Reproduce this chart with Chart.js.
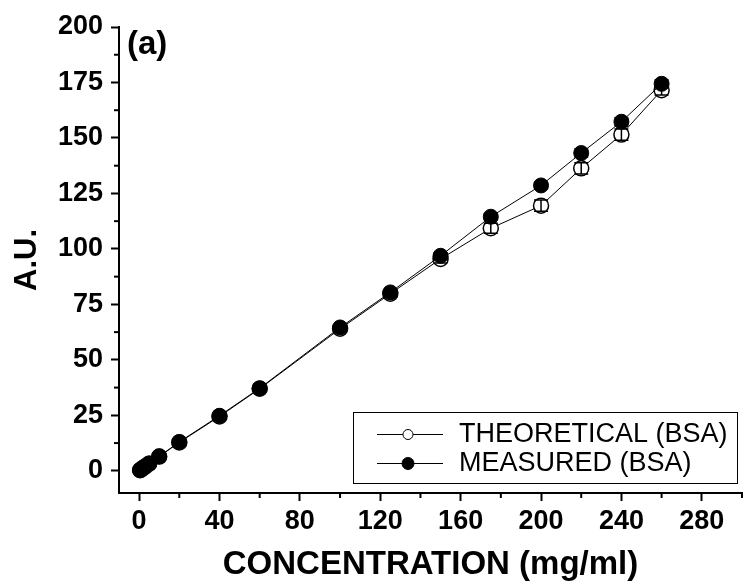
<!DOCTYPE html>
<html>
<head>
<meta charset="utf-8">
<script src="https://cdn.jsdelivr.net/npm/chart.js@4"></script>
<style>
html, body { margin: 0; padding: 0; background: #fff; }
</style>
</head>
<body>
<canvas id="myChart" width="746" height="585"></canvas>
<script>
// values
const concentration = [0.5, 1, 2, 3, 5, 10, 20, 40, 60, 100, 125, 150, 175, 200, 220, 240, 260];
const theoretical  = [0.3, 0.6, 1.3, 1.9, 3.2, 6.4, 12.8, 24.5, 37, 64, 79.8, 95.5, 109.3, 119.5, 136.3, 151.5, 171.5];
const measured     = [0.3, 0.7, 1.3, 2, 3.3, 6.5, 13, 24.8, 37.2, 64.6, 80.4, 96.9, 114.5, 128.6, 143.2, 157.3, 174.4];
const theoreticalErr = [0.3, 0.3, 0.3, 0.4, 0.4, 0.5, 0.6, 0.8, 1, 1.2, 1.5, 1.8, 2.3, 2.5, 2.5, 2.5, 2.2];
const measuredErr    = [0.3, 0.3, 0.3, 0.3, 0.4, 0.4, 0.5, 0.6, 0.8, 1, 1.2, 1.4, 1.5, 1.6, 1.8, 1.8, 1.8];
const legendLabels = ['THEORETICAL (BSA)', 'MEASURED (BSA)'];
const panelLabel = '(a)';

const FONT = "'Liberation Sans', Arial, sans-serif";

function pts(ys) {
  return concentration.map((c, i) => ({ x: c, y: ys[i] }));
}

const errors = [theoreticalErr, measuredErr];

// vertical error bars, drawn right after each dataset
const errorBars = {
  id: 'errorBars',
  afterDatasetDraw(chart, args) {
    const ds = chart.data.datasets[args.index];
    const err = errors[ds.errIndex];
    const x = chart.scales.x, y = chart.scales.y;
    const c = chart.ctx;
    c.save();
    c.strokeStyle = '#000';
    c.lineWidth = 1.5;
    ds.data.forEach((p, i) => {
      const px = x.getPixelForValue(p.x);
      const top = y.getPixelForValue(p.y + err[i]);
      const bot = y.getPixelForValue(p.y - err[i]);
      c.beginPath();
      c.moveTo(px, top); c.lineTo(px, bot);
      c.moveTo(px - 7, top); c.lineTo(px + 7, top);
      c.moveTo(px - 7, bot); c.lineTo(px + 7, bot);
      c.stroke();
    });
    c.restore();
  }
};

// minor ticks (shorter than major ones), legend box and panel label
const extras = {
  id: 'extras',
  afterDraw(chart) {
    const c = chart.ctx;
    const ca = chart.chartArea;
    const xs = chart.scales.x, ys = chart.scales.y;
    c.save();
    c.strokeStyle = '#000';
    c.lineWidth = 2;
    xs.ticks.forEach(t => {
      if (t.value % 40 !== 0) {
        const px = xs.getPixelForValue(t.value);
        c.beginPath(); c.moveTo(px, ca.bottom); c.lineTo(px, ca.bottom + 5); c.stroke();
      }
    });
    ys.ticks.forEach(t => {
      if (t.value % 25 !== 0) {
        const py = ys.getPixelForValue(t.value);
        c.beginPath(); c.moveTo(ca.left, py); c.lineTo(ca.left - 5, py); c.stroke();
      }
    });

    // panel label
    c.fillStyle = '#000';
    c.font = 'bold 33px ' + FONT;
    c.textBaseline = 'top';
    c.textAlign = 'left';
    c.fillText(panelLabel, ca.left + 8, ca.top + 1);

    // legend
    const bx = ca.left + 234, by = ca.bottom - 81;
    const bw = ca.right - 5 - bx, bh = 71;
    c.lineWidth = 1;
    c.strokeStyle = '#000';
    c.fillStyle = '#fff';
    c.fillRect(bx, by, bw, bh);
    c.strokeRect(bx + 0.5, by + 0.5, bw, bh);
    c.font = '27px ' + FONT;
    c.textBaseline = 'middle';
    legendLabels.forEach((lab, i) => {
      const ry = by + 22 + i * 29;
      c.strokeStyle = '#000';
      c.lineWidth = 1;
      c.beginPath(); c.moveTo(bx + 24, ry + 0.5); c.lineTo(bx + 90, ry + 0.5); c.stroke();
      c.beginPath();
      c.arc(bx + 55, ry + 0.5, i === 0 ? 5 : 6, 0, Math.PI * 2);
      c.fillStyle = i === 0 ? '#fff' : '#000';
      c.fill();
      c.stroke();
      c.fillStyle = '#000';
      c.fillText(lab, bx + 106, ry + 1);
    });
    c.restore();
  }
};

new Chart(document.getElementById('myChart'), {
  type: 'scatter',
  data: {
    datasets: [{
      label: legendLabels[0],
      data: pts(theoretical),
      errIndex: 0,
      showLine: true,
      borderColor: '#000',
      borderWidth: 1,
      backgroundColor: '#fff',
      pointBorderColor: '#000',
      pointBackgroundColor: '#fff',
      pointBorderWidth: 1.5,
      pointRadius: 7.5,
      order: 2
    }, {
      label: legendLabels[1],
      data: pts(measured),
      errIndex: 1,
      showLine: true,
      borderColor: '#000',
      borderWidth: 1,
      backgroundColor: '#000',
      pointBorderColor: '#000',
      pointBackgroundColor: '#000',
      pointBorderWidth: 1,
      pointRadius: 7.5,
      order: 1
    }]
  },
  options: {
    responsive: false,
    animation: false,
    devicePixelRatio: 1,
    layout: {
      autoPadding: false,
      padding: { top: 27, right: 0, left: 0, bottom: 0 }
    },
    plugins: {
      legend: { display: false },
      tooltip: { enabled: false }
    },
    scales: {
      x: {
        type: 'linear',
        min: -10,
        max: 300,
        afterFit: s => { s.height = 92; },
        border: { color: '#000', width: 2 },
        grid: {
          drawOnChartArea: false,
          tickLength: 8,
          tickWidth: 2,
          tickColor: ctx => (ctx.tick && ctx.tick.value % 40 === 0) ? '#000' : 'rgba(0,0,0,0)'
        },
        ticks: {
          stepSize: 20,
          includeBounds: false,
          autoSkip: false,
          maxRotation: 0,
          padding: 4,
          color: '#000',
          font: { family: FONT, size: 27, weight: 'bold' },
          callback: v => (v % 40 === 0 && v < 300) ? v : ''
        },
        title: {
          display: true,
          text: 'CONCENTRATION (mg/ml)',
          color: '#000',
          font: { family: FONT, size: 33, weight: 'bold' },
          padding: { top: 0, bottom: 0 }
        }
      },
      y: {
        type: 'linear',
        min: -10,
        max: 200,
        afterFit: s => { s.width = 119; },
        border: { color: '#000', width: 2 },
        grid: {
          drawOnChartArea: false,
          tickLength: 8,
          tickWidth: 2,
          tickColor: ctx => (ctx.tick && ctx.tick.value % 25 === 0) ? '#000' : 'rgba(0,0,0,0)'
        },
        ticks: {
          stepSize: 12.5,
          includeBounds: false,
          autoSkip: false,
          padding: 8,
          color: '#000',
          font: { family: FONT, size: 27, weight: 'bold' },
          callback: v => (v % 25 === 0) ? v : ''
        },
        title: {
          display: true,
          text: 'A.U.',
          color: '#000',
          font: { family: FONT, size: 31, weight: 'bold' },
          padding: { top: 9, bottom: 0 }
        }
      }
    }
  },
  plugins: [errorBars, extras]
});
</script>
</body>
</html>
